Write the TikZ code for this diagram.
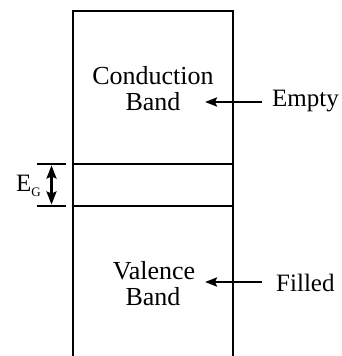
\documentclass[tikz,border=0pt]{standalone}
\usepackage{fontspec}
\setmainfont{Liberation Serif}
\usetikzlibrary{arrows.meta}
\begin{document}
\begin{tikzpicture}[x=1pt,y=-1pt,
  band/.style={line width=2.4pt},
  pointer/.style={line width=2.4pt,-{Stealth[length=12pt,width=9pt,inset=2pt]}},
  gap/.style={line width=2.4pt,{Stealth[length=13pt,width=10pt,inset=2pt]}-{Stealth[length=13pt,width=10pt,inset=2pt]}},
  lbl/.style={font=\fontsize{26}{28}\selectfont,inner sep=0pt,anchor=base},
  side/.style={font=\fontsize{25}{27}\selectfont,inner sep=0pt,anchor=base west}]
\useasboundingbox[fill=white] (0,0) rectangle (342,356);
% box
\coordinate (bl) at (73,356);
\coordinate (tl) at (73,11);
\coordinate (tr) at (233,11);
\coordinate (br) at (233,356);
\draw[band] (bl) -- (tl) -- (tr) -- (br);
\coordinate (cl) at (73,164);
\coordinate (cr) at (233,164);
\coordinate (vl) at (73,206);
\coordinate (vr) at (233,206);
\draw[band] (cl) -- (cr);
\draw[band] (vl) -- (vr);
% gap ticks
\coordinate (t1a) at (37,164);
\coordinate (t1b) at (66,164);
\coordinate (t2a) at (37,206);
\coordinate (t2b) at (66,206);
\draw[band] (t1a) -- (t1b);
\draw[band] (t2a) -- (t2b);
\coordinate (ga) at (51.5,165.5);
\coordinate (gb) at (51.5,204.5);
\draw[gap] (ga) -- (gb);
\node[font=\fontsize{25}{27}\selectfont,inner sep=0pt,anchor=base west] (eg) at (16,191.5) {E\raisebox{-5pt}{\fontsize{13}{14}\selectfont G}};
% labels
\node[lbl] (cond1) at (153,84) {Conduction};
\node[lbl] (cond2) at (153,110) {Band};
\node[lbl] (val1) at (154,279) {Valence};
\node[lbl] (val2) at (153,305) {Band};
\node[side] (empty) at (272,106) {Empty};
\node[side] (filled) at (276,291) {Filled};
\coordinate (ea) at (262,102);
\coordinate (eb) at (205,102);
\coordinate (fa) at (262,282);
\coordinate (fb) at (205,282);
\draw[pointer] (ea) -- (eb);
\draw[pointer] (fa) -- (fb);
\end{tikzpicture}
\end{document}
